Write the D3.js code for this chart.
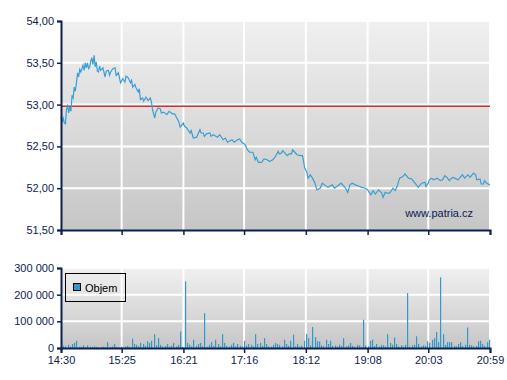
<!DOCTYPE html>
<html>
<head>
<meta charset="utf-8">
<script src="https://d3js.org/d3.v7.min.js"></script>
<style>
    body { margin: 0; background: #fff; }
    #chart { width: 507px; height: 380px; }
    text { font-family: "Liberation Sans", Arial, sans-serif; }
</style>
</head>
<body>
<div id="chart"></div>
<script>
// Price series: [time, price]
var pricePoints = [
    ["14:30",52.85],["14:31",52.80],["14:32",52.84],["14:33",52.78],["14:34",52.77],["14:35",52.94],
    ["14:36",53.00],["14:37",52.90],["14:38",52.97],["14:39",52.92],["14:40",53.11],["14:41",53.08],
    ["14:42",53.21],["14:43",53.16],["14:44",53.26],["14:45",53.38],["14:46",53.33],["14:47",53.42],
    ["14:48",53.39],["14:50",53.47],["14:51",53.41],["14:52",53.50],["14:53",53.44],["14:54",53.50],
    ["14:55",53.43],["14:56",53.45],["14:57",53.52],["14:58",53.56],["14:59",53.48],["15:00",53.59],
    ["15:01",53.45],["15:02",53.51],["15:03",53.40],["15:04",53.39],["15:05",53.46],["15:06",53.41],
    ["15:08",53.44],["15:10",53.33],["15:11",53.40],["15:13",53.41],["15:14",53.35],["15:15",53.39],
    ["15:17",53.43],["15:19",53.44],["15:20",53.35],["15:22",53.38],["15:23",53.32],["15:24",53.26],
    ["15:26",53.31],["15:28",53.27],["15:29",53.34],["15:31",53.32],["15:33",53.26],["15:34",53.29],
    ["15:35",53.21],["15:37",53.24],["15:38",53.20],["15:40",53.15],["15:41",53.19],["15:42",53.06],
    ["15:44",53.08],["15:45",53.04],["15:47",53.09],["15:49",53.05],["15:51",53.08],["15:52",53.03],
    ["15:53",52.94],["15:55",52.84],["15:56",52.91],["15:58",52.96],["16:00",52.95],["16:01",52.90],
    ["16:03",52.91],["16:06",52.88],["16:08",52.92],["16:11",52.89],["16:13",52.89],["16:15",52.84],
    ["16:17",52.79],["16:18",52.73],["16:21",52.78],["16:22",52.74],["16:24",52.72],["16:27",52.66],
    ["16:28",52.69],["16:30",52.60],["16:33",52.61],["16:36",52.70],["16:37",52.66],["16:39",52.66],
    ["16:40",52.62],["16:42",52.65],["16:45",52.66],["16:46",52.62],["16:48",52.64],["16:52",52.61],
    ["16:54",52.64],["16:57",52.58],["16:59",52.60],["17:01",52.55],["17:05",52.58],["17:07",52.55],
    ["17:10",52.58],["17:12",52.59],["17:14",52.55],["17:17",52.52],["17:19",52.46],["17:21",52.43],
    ["17:24",52.43],["17:26",52.34],["17:27",52.37],["17:29",52.31],["17:32",52.31],["17:34",52.35],
    ["17:37",52.34],["17:39",52.32],["17:42",52.34],["17:44",52.37],["17:47",52.44],["17:48",52.41],
    ["17:50",52.42],["17:51",52.45],["17:53",52.42],["17:55",52.39],["17:57",52.41],["17:59",52.41],
    ["18:00",52.46],["18:02",52.43],["18:04",52.40],["18:07",52.39],["18:09",52.39],["18:11",52.24],
    ["18:13",52.19],["18:14",52.12],["18:16",52.16],["18:18",52.12],["18:20",52.07],["18:22",51.98],
    ["18:25",52.00],["18:27",52.06],["18:29",52.04],["18:32",52.01],["18:36",52.04],["18:38",52.00],
    ["18:41",52.03],["18:44",52.06],["18:48",52.00],["18:50",51.95],["18:52",52.04],["18:54",52.06],
    ["18:57",52.04],["18:59",52.03],["19:03",52.01],["19:06",52.00],["19:08",51.98],["19:11",51.92],
    ["19:13",51.97],["19:15",51.93],["19:18",51.98],["19:21",51.94],["19:22",51.89],["19:24",51.95],
    ["19:26",51.94],["19:28",51.94],["19:31",52.00],["19:33",51.97],["19:35",52.03],["19:37",52.12],
    ["19:40",52.14],["19:42",52.17],["19:45",52.12],["19:48",52.11],["19:51",52.06],["19:54",52.01],
    ["19:57",52.06],["20:00",52.07],["20:01",52.02],["20:03",52.06],["20:04",52.10],["20:06",52.12],
    ["20:08",52.10],["20:11",52.12],["20:14",52.09],["20:16",52.10],["20:18",52.15],["20:20",52.13],
    ["20:22",52.09],["20:25",52.13],["20:27",52.12],["20:30",52.10],["20:32",52.13],["20:34",52.16],
    ["20:36",52.12],["20:39",52.16],["20:41",52.13],["20:44",52.18],["20:46",52.16],["20:47",52.10],
    ["20:50",52.11],["20:51",52.05],["20:53",52.05],["20:54",52.09],["20:56",52.06],["20:59",52.04]
];

// Reference price (red line)
var refPrice = 52.98;

// Volume, one bar every 2 minutes from 14:30 (thousands)
var volStart = "14:30";
var volStep = 2;
var volValues = [27,8,6,12,5,15,19,27,5,4,
    10,3,10,5,3,6,4,2,3,5,
    3,22,4,6,15,4,3,5,2,6,
    8,5,35,15,12,6,19,15,8,25,
    19,27,52,10,37,12,6,8,15,5,
    9,19,6,12,62,4,250,19,12,6,
    31,8,15,19,6,131,5,12,22,8,
    31,15,6,52,19,8,5,12,19,6,
    15,8,5,27,9,15,12,6,52,15,
    19,8,37,15,6,5,12,19,15,12,
    6,31,15,8,27,50,6,15,5,9,
    27,52,37,10,79,41,25,25,10,6,
    31,15,27,8,10,5,12,8,37,6,
    10,19,8,5,12,10,4,106,9,6,
    27,31,8,15,6,12,10,5,52,19,
    12,40,15,6,10,5,12,206,6,10,
    12,44,15,6,10,8,25,19,31,37,
    60,22,265,52,12,22,22,22,8,6,
    15,22,8,12,77,12,10,6,8,25,
    27,15,8,22,31];

// Axis labels
var xTickLabels = ["14:30","15:25","16:21","17:16","18:12","19:08","20:03","20:59"];
var priceTicks = [51.5, 52, 52.5, 53, 53.5, 54];
var volTicks = [0, 100000, 200000, 300000];
var legendLabel = "Objem";
var watermark = "www.patria.cz";

PatriaChart = function(_parentElement) {
    this.parentElement = _parentElement;
    this.initVis();
};

PatriaChart.prototype.initVis = function() {
    var vis = this;
    var parse = d3.timeParse("%H:%M");

    vis.width = 507;
    vis.height = 380;
    vis.left = 61;
    vis.right = 490;
    vis.axisColor = "#0d2150";

    vis.svg = d3.select("#" + vis.parentElement).append("svg")
        .attr("width", vis.width)
        .attr("height", vis.height);

    // Background gradient for both panels
    var defs = vis.svg.append("defs");
    var grad = defs.append("linearGradient")
        .attr("id", "bg").attr("x1", 0).attr("y1", 0).attr("x2", 0).attr("y2", 1);
    grad.append("stop").attr("offset", "0%").attr("stop-color", "#f0f0f0");
    grad.append("stop").attr("offset", "100%").attr("stop-color", "#c6c6c6");

    // Scales
    vis.x = d3.scaleTime()
        .domain([parse(xTickLabels[0]), parse(xTickLabels[xTickLabels.length - 1])])
        .range([vis.left, vis.right]);
    vis.y = d3.scaleLinear().domain([51.5, 54]).range([230, 21]);
    vis.yVol = d3.scaleLinear().domain([0, 300000]).range([348, 268]);

    var xTicks = xTickLabels.map(parse);

    // ---- Price panel ----
    vis.svg.append("rect")
        .attr("x", vis.left).attr("y", vis.y(54))
        .attr("width", vis.right - vis.left).attr("height", vis.y(51.5) - vis.y(54))
        .attr("fill", "url(#bg)");

    vis.svg.append("g").selectAll("line").data(priceTicks.slice(1))
        .enter().append("line")
        .attr("x1", vis.left).attr("x2", vis.right)
        .attr("y1", function(d) { return vis.y(d); })
        .attr("y2", function(d) { return vis.y(d); })
        .attr("stroke", "#fff").attr("stroke-width", 2);

    vis.svg.append("g").selectAll("line").data(xTicks.slice(1))
        .enter().append("line")
        .attr("x1", function(d) { return vis.x(d); })
        .attr("x2", function(d) { return vis.x(d); })
        .attr("y1", vis.y(54)).attr("y2", vis.y(51.5))
        .attr("stroke", "#fff").attr("stroke-width", 2);

    // Reference line
    vis.svg.append("line")
        .attr("x1", vis.left).attr("x2", vis.right)
        .attr("y1", vis.y(refPrice)).attr("y2", vis.y(refPrice))
        .attr("stroke", "#dd2a2a").attr("stroke-width", 1.5);

    // Price line
    var priceData = pricePoints.map(function(p) { return {t: parse(p[0]), v: p[1]}; });
    vis.svg.append("path")
        .datum(priceData)
        .attr("fill", "none")
        .attr("stroke", "#3a9fd2")
        .attr("stroke-width", 1.2)
        .attr("d", d3.line()
            .x(function(d) { return vis.x(d.t); })
            .y(function(d) { return vis.y(d.v); }));

    vis.svg.append("text")
        .attr("x", 473).attr("y", 217)
        .attr("text-anchor", "end")
        .attr("font-size", 11)
        .attr("fill", vis.axisColor)
        .text(watermark);

    // Axes for price panel
    var yAxis = d3.axisLeft(vis.y).tickValues(priceTicks).tickSize(4).tickPadding(3)
        .tickFormat(function(d) { return d3.format(".2f")(d).replace(".", ","); });
    vis.drawAxis(vis.svg.append("g").attr("transform", "translate(" + vis.left + ",0)").call(yAxis));

    var xAxisTop = d3.axisBottom(vis.x).tickValues(xTicks).tickSize(5).tickFormat("");
    vis.drawAxis(vis.svg.append("g").attr("transform", "translate(0," + vis.y(51.5) + ")").call(xAxisTop));

    // ---- Volume panel ----
    vis.svg.append("rect")
        .attr("x", vis.left).attr("y", vis.yVol(300000))
        .attr("width", vis.right - vis.left).attr("height", vis.yVol(0) - vis.yVol(300000))
        .attr("fill", "url(#bg)");

    vis.svg.append("g").selectAll("line").data(volTicks.slice(1))
        .enter().append("line")
        .attr("x1", vis.left).attr("x2", vis.right)
        .attr("y1", function(d) { return vis.yVol(d); })
        .attr("y2", function(d) { return vis.yVol(d); })
        .attr("stroke", "#fff").attr("stroke-width", 2);

    vis.svg.append("g").selectAll("line").data(xTicks.slice(1))
        .enter().append("line")
        .attr("x1", function(d) { return vis.x(d); })
        .attr("x2", function(d) { return vis.x(d); })
        .attr("y1", vis.yVol(300000)).attr("y2", vis.yVol(0))
        .attr("stroke", "#fff").attr("stroke-width", 2);

    // Volume bars
    var t0 = parse(volStart);
    var volData = volValues.map(function(v, i) {
        return {t: d3.timeMinute.offset(t0, i * volStep), v: v * 1000};
    });
    vis.svg.append("g").selectAll("rect").data(volData)
        .enter().append("rect")
        .attr("x", function(d) { return Math.round(vis.x(d.t)); })
        .attr("y", function(d) { return vis.yVol(d.v); })
        .attr("width", 1.2)
        .attr("height", function(d) { return vis.yVol(0) - vis.yVol(d.v); })
        .attr("fill", "#3399cc");

    // Legend
    var legend = vis.svg.append("g");
    legend.append("rect")
        .attr("x", 65.5).attr("y", 273.5).attr("width", 60).attr("height", 28)
        .attr("fill", "none").attr("stroke", "#000").attr("stroke-width", 1);
    legend.append("rect")
        .attr("x", 73.5).attr("y", 283.5).attr("width", 7).attr("height", 7)
        .attr("fill", "#3399cc").attr("stroke", "#000").attr("stroke-width", 1);
    legend.append("text")
        .attr("x", 85).attr("y", 292)
        .attr("font-size", 11).attr("fill", "#000")
        .text(legendLabel);

    // Axes for volume panel
    var yVolAxis = d3.axisLeft(vis.yVol).tickValues(volTicks).tickSize(4).tickPadding(3)
        .tickFormat(function(d) { return d3.format(",")(d).replace(/,/g, " "); });
    vis.drawAxis(vis.svg.append("g").attr("transform", "translate(" + vis.left + ",0)").call(yVolAxis));

    var xAxis = d3.axisBottom(vis.x).tickValues(xTicks).tickSize(5).tickPadding(3)
        .tickFormat(d3.timeFormat("%H:%M"));
    vis.drawAxis(vis.svg.append("g").attr("transform", "translate(0," + vis.yVol(0) + ")").call(xAxis));
};

PatriaChart.prototype.drawAxis = function(g) {
    var vis = this;
    g.select(".domain").attr("stroke", vis.axisColor).attr("stroke-width", 2);
    g.selectAll(".tick line").attr("stroke", vis.axisColor).attr("stroke-width", 1.5);
    g.selectAll(".tick text")
        .attr("fill", vis.axisColor)
        .attr("font-size", 11)
        .attr("font-family", "'Liberation Sans', Arial, sans-serif");
};

var chart = new PatriaChart("chart");
</script>
</body>
</html>
